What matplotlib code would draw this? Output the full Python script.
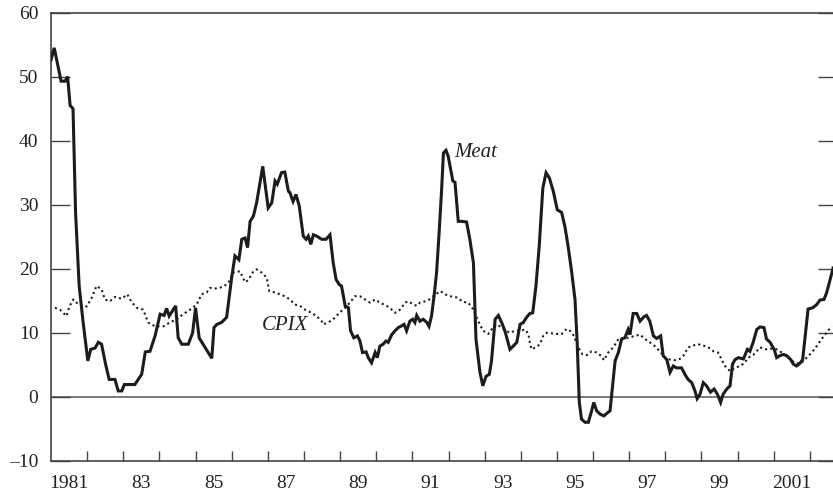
import matplotlib
matplotlib.use("Agg")
import matplotlib.pyplot as plt
import numpy as np

# Meat price inflation, percent (12-month), irregularly sampled dates in decimal years
meat_t = [1981.00, 1981.09, 1981.28, 1981.39, 1981.46, 1981.53, 1981.61, 1981.68, 1981.78, 1981.89,
          1982.02, 1982.10, 1982.22, 1982.31, 1982.40, 1982.51, 1982.61, 1982.77, 1982.86, 1982.96,
          1983.03, 1983.32, 1983.51, 1983.61, 1983.74, 1983.88, 1984.02, 1984.13, 1984.20, 1984.27,
          1984.45, 1984.52, 1984.62, 1984.80, 1984.92, 1985.00, 1985.10, 1985.45, 1985.51, 1985.59,
          1985.72, 1985.86, 1986.00, 1986.09, 1986.20, 1986.28, 1986.37, 1986.44, 1986.51, 1986.60,
          1986.69, 1986.86, 1987.01, 1987.11, 1987.20, 1987.26, 1987.38, 1987.47, 1987.57, 1987.61,
          1987.70, 1987.78, 1987.87, 1987.98, 1988.06, 1988.12, 1988.19, 1988.26, 1988.35, 1988.49,
          1988.61, 1988.72, 1988.81, 1988.89, 1988.98, 1989.04, 1989.14, 1989.23, 1989.29, 1989.38,
          1989.48, 1989.55, 1989.62, 1989.72, 1989.78, 1989.87, 1989.97, 1990.03, 1990.10, 1990.19,
          1990.27, 1990.33, 1990.43, 1990.52, 1990.61, 1990.68, 1990.77, 1990.84, 1990.93, 1991.01,
          1991.07, 1991.12, 1991.21, 1991.30, 1991.40, 1991.46, 1991.53, 1991.60, 1991.67, 1991.74,
          1991.81, 1991.86, 1991.93, 1991.99, 1992.06, 1992.12, 1992.18, 1992.27, 1992.36, 1992.50,
          1992.59, 1992.69, 1992.76, 1992.87, 1992.95, 1993.04, 1993.13, 1993.19, 1993.29, 1993.38,
          1993.47, 1993.56, 1993.70, 1993.79, 1993.89, 1993.98, 1994.07, 1994.16, 1994.25, 1994.33,
          1994.42, 1994.51, 1994.61, 1994.70, 1994.79, 1994.90, 1995.01, 1995.13, 1995.22, 1995.31,
          1995.41, 1995.50, 1995.56, 1995.62, 1995.68, 1995.78, 1995.87, 1995.96, 1996.02, 1996.10,
          1996.19, 1996.30, 1996.38, 1996.47, 1996.54, 1996.61, 1996.70, 1996.79, 1996.88, 1996.97,
          1997.02, 1997.11, 1997.21, 1997.30, 1997.41, 1997.48, 1997.57, 1997.67, 1997.76, 1997.87,
          1997.94, 1998.04, 1998.13, 1998.22, 1998.31, 1998.45, 1998.54, 1998.63, 1998.73, 1998.82,
          1998.88, 1998.96, 1999.05, 1999.14, 1999.25, 1999.35, 1999.44, 1999.53, 1999.60, 1999.70,
          1999.79, 1999.86, 1999.93, 2000.02, 2000.16, 2000.27, 2000.34, 2000.43, 2000.53, 2000.62,
          2000.73, 2000.80, 2000.90, 2001.01, 2001.08, 2001.17, 2001.26, 2001.36, 2001.47, 2001.54,
          2001.63, 2001.72, 2001.80, 2001.86, 2001.95, 2002.08, 2002.19, 2002.28, 2002.39, 2002.46,
          2002.56, 2002.64]
meat_v = [52.6, 54.5, 49.3, 49.3, 50.0, 45.5, 45.0, 28.8, 17.3, 11.6,
          5.6, 7.4, 7.6, 8.5, 8.2, 5.1, 2.7, 2.7, 0.9, 0.9,
          1.9, 1.9, 3.5, 7.0, 7.1, 9.5, 12.9, 12.7, 13.8, 12.6,
          14.2, 9.2, 8.2, 8.2, 10.0, 13.9, 9.2, 6.0, 10.8, 11.3,
          11.6, 12.4, 18.6, 22.0, 21.4, 24.6, 24.8, 23.3, 27.4, 28.2,
          30.3, 36.0, 29.5, 30.3, 33.7, 33.2, 35.0, 35.1, 32.1, 31.9,
          30.5, 31.6, 29.8, 25.1, 24.6, 25.1, 23.8, 25.3, 25.1, 24.6,
          24.6, 25.3, 20.9, 18.3, 17.5, 17.3, 14.2, 13.9, 10.3, 9.2,
          9.5, 8.7, 6.9, 7.0, 6.1, 5.3, 6.9, 6.1, 7.9, 8.2,
          8.7, 8.5, 9.7, 10.3, 10.8, 11.0, 11.3, 10.3, 11.8, 12.1,
          11.6, 12.7, 11.8, 12.1, 11.6, 11.0, 12.6, 15.7, 19.4, 25.6,
          32.4, 38.1, 38.5, 37.6, 35.5, 33.7, 33.5, 27.4, 27.4, 27.3,
          24.6, 20.9, 9.0, 3.8, 1.7, 3.2, 3.5, 5.6, 12.1, 12.7,
          11.6, 10.3, 7.4, 7.9, 8.5, 11.3, 11.6, 12.4, 13.0, 13.1,
          17.3, 23.5, 32.6, 35.0, 34.2, 32.1, 29.2, 28.8, 26.6, 23.5,
          19.4, 15.2, 8.5, -0.9, -3.5, -4.0, -4.0, -2.2, -0.9, -2.2,
          -2.7, -3.0, -2.6, -2.2, 1.7, 5.6, 6.9, 9.0, 9.2, 10.5,
          9.7, 13.0, 13.0, 11.8, 12.5, 12.7, 11.8, 9.5, 9.1, 9.5,
          6.4, 5.8, 3.8, 4.8, 4.5, 4.5, 3.5, 2.7, 2.2, 0.9,
          -0.3, 0.4, 2.2, 1.7, 0.7, 1.2, 0.4, -0.9, 0.4, 1.2,
          1.7, 5.1, 5.8, 6.1, 5.9, 7.4, 7.1, 8.5, 10.5, 10.9,
          10.8, 9.0, 8.5, 7.4, 6.1, 6.4, 6.6, 6.4, 5.8, 5.1,
          4.8, 5.2, 5.8, 9.0, 13.7, 13.9, 14.4, 15.1, 15.2, 16.2,
          18.3, 20.1]

# CPIX inflation, percent
cpix_t = [1981.11, 1981.25, 1981.43, 1981.51, 1981.62, 1981.76, 1981.89, 1981.99, 1982.13, 1982.26,
          1982.40, 1982.49, 1982.63, 1982.77, 1982.96, 1983.11, 1983.23, 1983.37, 1983.55, 1983.69,
          1983.88, 1984.11, 1984.29, 1984.48, 1984.66, 1984.85, 1985.03, 1985.17, 1985.31, 1985.40,
          1985.59, 1985.77, 1985.91, 1986.04, 1986.23, 1986.37, 1986.46, 1986.58, 1986.69, 1986.83,
          1986.97, 1987.04, 1987.20, 1987.38, 1987.47, 1987.61, 1987.75, 1987.89, 1988.03, 1988.21,
          1988.35, 1988.49, 1988.53, 1988.67, 1988.81, 1988.98, 1989.14, 1989.27, 1989.41, 1989.55,
          1989.69, 1989.83, 1989.97, 1990.10, 1990.29, 1990.43, 1990.52, 1990.66, 1990.80, 1990.89,
          1991.03, 1991.12, 1991.21, 1991.35, 1991.47, 1991.58, 1991.67, 1991.78, 1991.90, 1992.04,
          1992.23, 1992.41, 1992.55, 1992.69, 1992.82, 1992.96, 1993.10, 1993.19, 1993.33, 1993.42,
          1993.56, 1993.70, 1993.84, 1993.98, 1994.12, 1994.21, 1994.25, 1994.30, 1994.44, 1994.53,
          1994.62, 1994.72, 1994.85, 1994.99, 1995.13, 1995.27, 1995.36, 1995.47, 1995.59, 1995.71,
          1995.84, 1995.96, 1996.10, 1996.24, 1996.30, 1996.42, 1996.56, 1996.70, 1996.84, 1996.97,
          1997.16, 1997.30, 1997.44, 1997.57, 1997.71, 1997.85, 1997.99, 1998.13, 1998.27, 1998.40,
          1998.50, 1998.63, 1998.77, 1998.91, 1999.05, 1999.19, 1999.33, 1999.46, 1999.56, 1999.65,
          1999.79, 1999.93, 2000.07, 2000.20, 2000.29, 2000.43, 2000.62, 2000.80, 2000.94, 2001.08,
          2001.22, 2001.36, 2001.50, 2001.63, 2001.77, 2001.91, 2002.05, 2002.19, 2002.32, 2002.46,
          2002.60]
cpix_v = [13.9, 13.6, 12.6, 14.1, 15.2, 14.4, 14.2, 14.1, 15.5, 17.3,
          16.8, 15.2, 14.9, 15.6, 15.3, 16.0, 14.8, 13.9, 13.6, 11.6,
          11.0, 11.0, 11.6, 12.1, 12.9, 13.6, 14.4, 16.0, 16.3, 17.0,
          16.9, 17.2, 17.8, 19.4, 19.6, 17.9, 18.2, 19.4, 19.9, 19.4,
          18.6, 16.5, 16.3, 15.9, 15.7, 15.2, 14.4, 14.2, 13.6, 13.1,
          12.6, 11.8, 11.3, 11.6, 12.1, 13.1, 13.9, 14.7, 15.7, 15.7,
          15.2, 14.7, 15.2, 14.7, 14.2, 13.6, 13.1, 13.6, 14.7, 14.9,
          14.4, 14.2, 14.7, 14.9, 15.2, 15.7, 16.1, 16.5, 16.0, 15.7,
          15.5, 14.8, 14.7, 13.6, 11.8, 10.3, 9.8, 10.5, 11.3, 11.0,
          10.4, 10.0, 10.3, 10.3, 10.5, 9.8, 8.5, 7.4, 7.8, 8.2,
          9.5, 10.0, 9.9, 9.8, 9.8, 10.6, 10.3, 9.5, 7.7, 6.6,
          6.5, 7.1, 6.9, 6.3, 5.7, 6.9, 7.7, 9.0, 9.2, 9.2,
          9.5, 9.7, 9.0, 8.5, 7.9, 7.1, 6.1, 5.8, 5.7, 5.9,
          6.4, 7.7, 8.0, 8.2, 8.0, 7.7, 7.1, 6.9, 5.8, 4.8,
          4.0, 4.5, 4.8, 5.3, 6.1, 6.5, 7.7, 7.4, 7.5, 7.4,
          6.9, 6.4, 5.6, 5.2, 5.3, 6.1, 6.9, 7.9, 9.0, 10.0,
          11.0]

year_ticks = np.arange(1982, 2003)
label_years = np.arange(1981, 2002, 2)
year_labels = ["1981"] + ["%02d" % (y % 100) for y in label_years[1:-1]] + ["2001"]
y_ticks = np.arange(-10, 61, 10)

plt.rcParams["font.family"] = ["Liberation Serif", "DejaVu Serif"]
ink = "#1c1c1c"
frame = "#444444"
label_col = "#222222"

fig = plt.figure(figsize=(8.33, 4.94), dpi=100)
ax = fig.add_axes([0.0612, 0.0674, 0.9436, 0.9069])

ax.axhline(0, color="#555555", lw=1.1, zorder=1)
ax.plot(cpix_t, cpix_v, color=ink, lw=1.5, dashes=(1.0, 1.5), zorder=2)
ax.plot(meat_t, meat_v, color=ink, lw=2.2, solid_joinstyle="miter", zorder=3)

ax.text(1992.17, 38.2, "Meat", fontsize=15, style="italic", color=label_col, va="center")
ax.text(1986.84, 11.1, "CPIX", fontsize=15, style="italic", color=label_col, va="center")

ax.set_xlim(1981, 2002.75)
ax.set_ylim(-10, 60)

ax.set_xticks(year_ticks)
ax.set_xticklabels([])
ax.set_xticks(label_years + 0.5, minor=True)
ax.set_xticklabels(year_labels, minor=True)
ax.tick_params(axis="x", which="major", direction="in", length=7.5, width=1.0, color=frame)
ax.tick_params(axis="x", which="minor", length=0, pad=10, labelsize=14, labelcolor=label_col)

ax.set_yticks(y_ticks)
ax.set_yticklabels(["\u201310"] + [str(v) for v in y_ticks[1:]])
ax.tick_params(axis="y", direction="in", length=14, width=1.0, color=frame,
               right=True, labelsize=14, labelcolor=label_col, pad=9)

for side in ["left", "bottom", "top", "right"]:
    ax.spines[side].set_color(frame)
    ax.spines[side].set_linewidth(1.2)

fig.savefig("out.png", dpi=100)
